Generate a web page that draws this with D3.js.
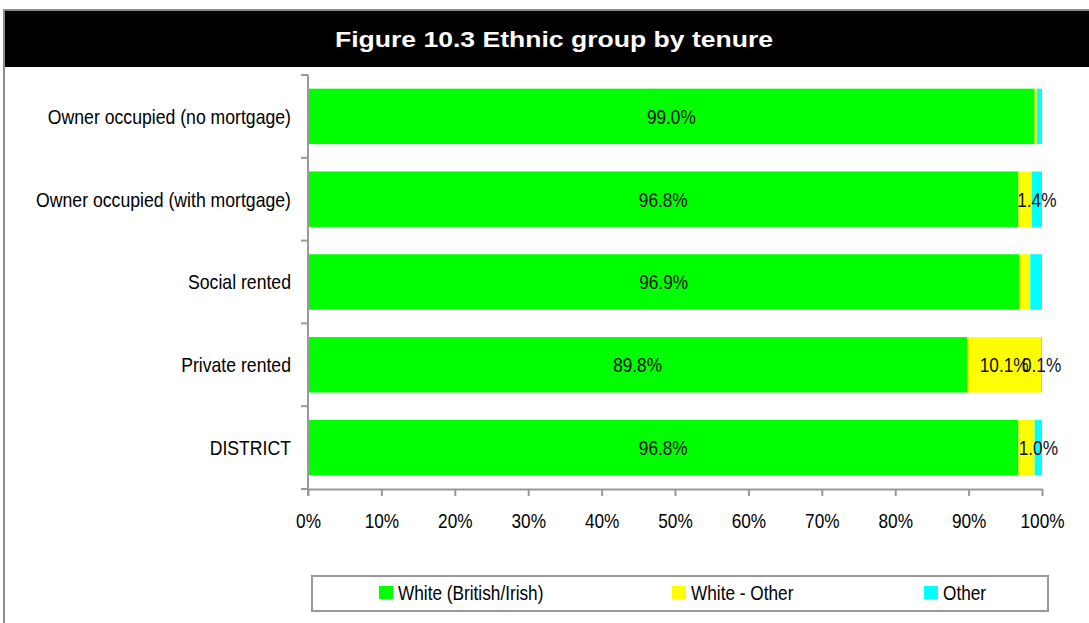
<!DOCTYPE html>
<html>
<head>
<meta charset="utf-8">
<script src="https://cdn.jsdelivr.net/npm/d3@7"></script>
<style>
  body { margin: 0; background: #fff; }
  svg text { font-family: "Liberation Sans", Arial, sans-serif; }
</style>
</head>
<body>
<div id="main"></div>
<script>
const categories = ["Owner occupied (no mortgage)", "Owner occupied (with mortgage)", "Social rented", "Private rented", "DISTRICT"];
const seriesNames = ["White (British/Irish)", "White - Other", "Other"];
const seriesColors = ["#00ff00", "#ffff00", "#00ffff"];
const whiteBritish = [99.0, 96.8, 96.9, 89.8, 96.8];
const whiteOther = [0.3, 1.8, 1.5, 10.1, 2.2];
const otherGroup = [0.7, 1.4, 1.6, 0.1, 1.0];
// which segment labels are visible in the original
const showWhiteBritish = [true, true, true, true, true];
const showWhiteOther = [false, false, false, true, false];
const showOther = [false, true, false, true, true];
const xTicks = [0, 10, 20, 30, 40, 50, 60, 70, 80, 90, 100];

const W = 1089, H = 623;
const margin = { top: 75, right: 47, bottom: 134, left: 308 };

// squeeze text horizontally (original uses a narrow sans), anchor stays put
function condense(sel, f = 0.82) {
    sel.each(function () {
        const len = this.getComputedTextLength();
        d3.select(this)
            .attr("textLength", len * f)
            .attr("lengthAdjust", "spacingAndGlyphs");
    });
}

const svg = d3.select("#main").append("svg")
    .attr("width", W)
    .attr("height", H);

// outer frame + title band
svg.append("rect")
    .attr("x", 4).attr("y", 10)
    .attr("width", 1200).attr("height", 800)
    .attr("fill", "#fff")
    .attr("stroke", "#8c8c8c")
    .attr("stroke-width", 2);
svg.append("rect")
    .attr("x", 5).attr("y", 11)
    .attr("width", 1100).attr("height", 56)
    .attr("fill", "#000");
svg.append("text")
    .attr("x", 554).attr("y", 47)
    .attr("text-anchor", "middle")
    .attr("fill", "#fff")
    .style("font-weight", "bold")
    .style("font-size", "22px")
    .attr("textLength", 438)
    .attr("lengthAdjust", "spacingAndGlyphs")
    .text("Figure 10.3 Ethnic group by tenure");

const x = d3.scaleLinear()
    .domain([0, 100])
    .range([margin.left, W - margin.right]);

const y = d3.scaleBand()
    .domain(categories)
    .range([margin.top, H - margin.bottom])
    .paddingInner(0.33)
    .paddingOuter(0.165);

const rows = categories.map((c, i) => {
    const vals = [whiteBritish[i], whiteOther[i], otherGroup[i]];
    const shows = [showWhiteBritish[i], showWhiteOther[i], showOther[i]];
    let acc = 0;
    return vals.map((v, k) => {
        const seg = { cat: c, k: k, x0: acc, x1: acc + v, v: v, show: shows[k] };
        acc += v;
        return seg;
    });
});

const segs = rows.flat();

svg.append("g").selectAll("rect")
    .data(segs)
    .join("rect")
    .attr("x", d => x(d.x0))
    .attr("y", d => y(d.cat))
    .attr("width", d => x(d.x1) - x(d.x0))
    .attr("height", y.bandwidth())
    .attr("fill", d => seriesColors[d.k]);

const axisColor = "#999";

// X axis
const gx = svg.append("g")
    .attr("transform", `translate(0,${H - margin.bottom})`)
    .call(d3.axisBottom(x).tickValues(xTicks).tickFormat(d => d + "%").tickSize(7).tickSizeOuter(0).tickPadding(17));
gx.select(".domain").attr("stroke", axisColor).attr("stroke-width", 2);
gx.selectAll(".tick line").attr("stroke", axisColor).attr("stroke-width", 2);
gx.selectAll(".tick text")
    .attr("fill", "#000")
    .style("font-family", "'Liberation Sans', Arial, sans-serif")
    .style("font-size", "21px")
    .call(condense);

// Y axis with ticks on category boundaries
const bounds = categories.map(c => y(c) - y.step() * y.paddingInner() / 2);
bounds.push(H - margin.bottom);
const gy = svg.append("g");
gy.append("line")
    .attr("x1", margin.left).attr("x2", margin.left)
    .attr("y1", margin.top).attr("y2", H - margin.bottom + 7)
    .attr("stroke", axisColor).attr("stroke-width", 2);
gy.selectAll("line.tk")
    .data(bounds)
    .join("line")
    .attr("class", "tk")
    .attr("x1", margin.left - 7).attr("x2", margin.left)
    .attr("y1", d => d).attr("y2", d => d)
    .attr("stroke", axisColor).attr("stroke-width", 2);
gy.selectAll("text")
    .data(categories)
    .join("text")
    .attr("x", margin.left - 17)
    .attr("y", d => y(d) + y.bandwidth() / 2)
    .attr("dy", "0.35em")
    .attr("text-anchor", "end")
    .style("font-size", "21px")
    .attr("fill", "#000")
    .text(d => d)
    .call(condense, 0.84);

// segment labels
svg.append("g").selectAll("text")
    .data(segs.filter(d => d.show))
    .join("text")
    .attr("x", d => (x(d.x0) + x(d.x1)) / 2)
    .attr("y", d => y(d.cat) + y.bandwidth() / 2)
    .attr("dy", "0.35em")
    .attr("text-anchor", "middle")
    .style("font-size", "21px")
    .attr("fill", "#111")
    .text(d => d.v.toFixed(1) + "%")
    .call(condense);

// legend
const lg = svg.append("g");
lg.append("rect")
    .attr("x", 312).attr("y", 576)
    .attr("width", 736).attr("height", 35)
    .attr("fill", "#fff")
    .attr("stroke", "#999")
    .attr("stroke-width", 2);
const legendX = [379, 672, 924];
const items = lg.selectAll("g.item")
    .data(seriesNames)
    .join("g")
    .attr("class", "item")
    .attr("transform", (d, i) => `translate(${legendX[i]},593)`);
items.append("rect")
    .attr("x", 0).attr("y", -7)
    .attr("width", 14).attr("height", 13)
    .attr("fill", (d, i) => seriesColors[i]);
items.append("text")
    .attr("x", 19)
    .attr("dy", "0.35em")
    .style("font-size", "21px")
    .attr("fill", "#000")
    .text(d => d)
    .call(condense);
</script>
</body>
</html>
